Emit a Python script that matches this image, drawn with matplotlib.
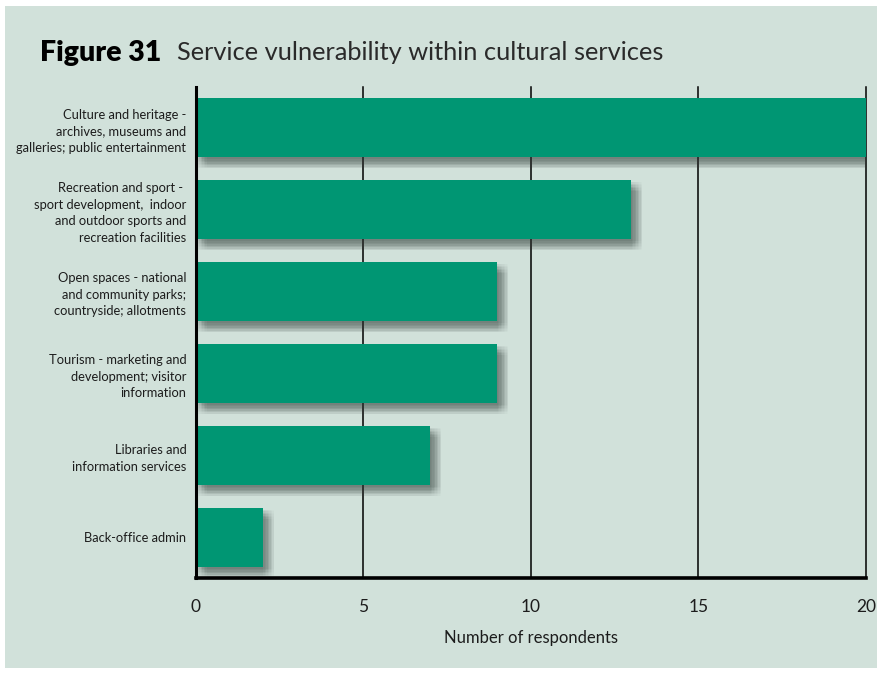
import matplotlib.pyplot as plt
import matplotlib.patheffects as pe
from matplotlib.patches import Rectangle

plt.rcParams["font.family"] = ["Lato", "DejaVu Sans"]

# Responses per cultural service area (top to bottom)
services = [
    "Culture and heritage -\narchives, museums and\ngalleries; public entertainment",
    "Recreation and sport - \nsport development,  indoor\nand outdoor sports and\nrecreation facilities",
    "Open spaces - national\nand community parks;\ncountryside; allotments",
    "Tourism - marketing and\ndevelopment; visitor\ninformation",
    "Libraries and\ninformation services",
    "Back-office admin",
]
respondents = [20, 13, 9, 9, 7, 2]
x_ticks = [0, 5, 10, 15, 20]

panel_bg = "#d1e1da"
bar_green = "#009673"
text_col = "#1c1c1c"

fig = plt.figure(figsize=(8.78, 6.76), dpi=100, facecolor="white")
fig.patches.append(
    Rectangle((5 / 878, 8 / 676), 873 / 878, 662 / 676,
              transform=fig.transFigure, facecolor=panel_bg, edgecolor="none", zorder=-5)
)

ax = fig.add_axes([196 / 878, 1 - 578 / 676, 670 / 878, 491 / 676])
ax.set_facecolor("none")

# soft drop shadow: many faint offset copies of each bar
shadow = []
for dx in (0.5, 2, 3.5, 5, 6.5, 8, 9.5, 11):
    for dy in (-2, -3.5, -5, -6.5, -8, -9.5, -11):
        shadow.append(pe.SimplePatchShadow(offset=(dx * 0.72, dy * 0.72),
                                           shadow_rgbFace="#4a5852", alpha=0.015))
shadow.append(pe.Normal())

ypos = list(range(len(services)))
bars = ax.barh(ypos, respondents, height=0.72, color=bar_green, zorder=3)
for b in bars:
    b.set_path_effects(shadow)

ax.set_ylim(len(services) - 0.5, -0.5)
ax.set_xlim(0, 20)
ax.set_yticks(ypos)
ax.set_yticklabels(services, fontsize=9.3, color=text_col, linespacing=1.45)
ax.set_xticks(x_ticks)
ax.set_xticklabels([str(t) for t in x_ticks], fontsize=12.5, color=text_col)
ax.tick_params(axis="both", length=0)
ax.tick_params(axis="x", pad=15)
ax.tick_params(axis="y", pad=7)

for t in x_ticks[1:]:
    ax.axvline(t, color="black", lw=1.1, zorder=1, clip_on=False)

for side in ("top", "right"):
    ax.spines[side].set_visible(False)
ax.spines["left"].set_linewidth(2.2)
ax.spines["bottom"].set_linewidth(2.6)
ax.spines["left"].set_zorder(4)
ax.spines["bottom"].set_zorder(4)

ax.set_xlabel("Number of respondents", fontsize=12, color=text_col, labelpad=11)

fig.text(40 / 878, 1 - 53 / 676, "Figure 31", fontsize=20.5, fontweight="heavy",
         color="black", va="center", ha="left")
fig.text(177 / 878, 1 - 53 / 676, "Service vulnerability within cultural services",
         fontsize=18.3, color="#2a2a2a", va="center", ha="left")

fig.savefig("out.png", dpi=100, facecolor="white")
